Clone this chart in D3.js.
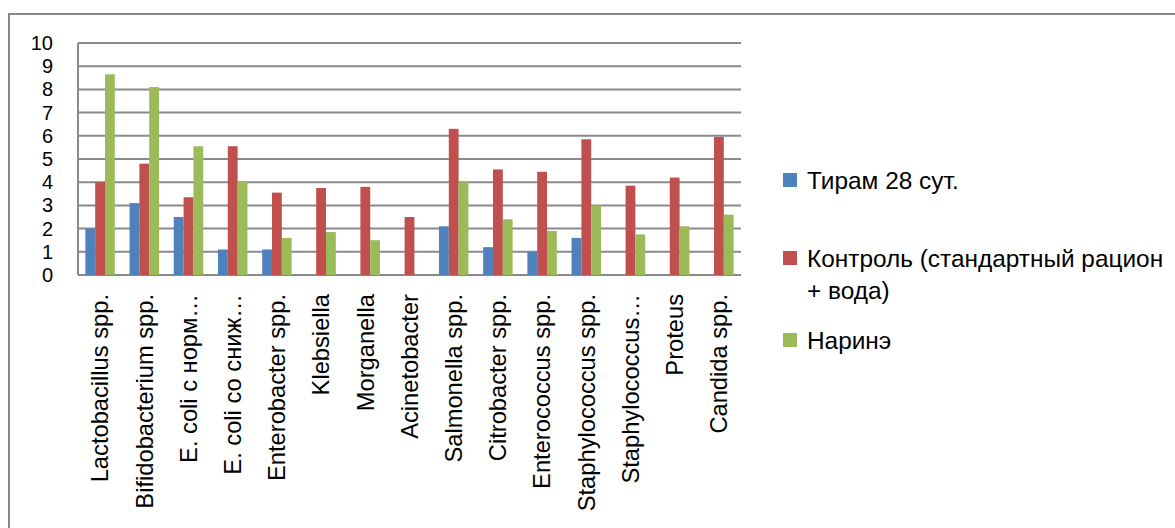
<!DOCTYPE html>
<html lang="ru">
<head>
<meta charset="UTF-8">
<title>Chart</title>
<style>
  body { margin: 0; background: #fff; }
  text { font-family: "Liberation Sans", Arial, sans-serif; fill: #000; }
</style>
</head>
<body>
<svg width="1175" height="528"></svg>
<script src="https://d3js.org/d3.v7.min.js"></script>
<script>
// categories as shown on the axis (long names are cut off in the source)
var categories = ["Lactobacillus spp.", "Bifidobacterium spp.", "E. coli с норм…", "E. coli со сниж…",
  "Enterobacter spp.", "Klebsiella", "Morganella", "Acinetobacter", "Salmonella spp.",
  "Citrobacter spp.", "Enterococcus spp.", "Staphylococcus spp.", "Staphylococcus…",
  "Proteus", "Candida spp."];

var seriesNames = ["Тирам 28 сут.", "Контроль (стандартный рацион + вода)", "Наринэ"];

var tiram    = [2.0, 3.1, 2.5, 1.1, 1.1, 0, 0, 0, 2.1, 1.2, 1.0, 1.6, 0, 0, 0];
var kontrol  = [4.0, 4.8, 3.35, 5.55, 3.55, 3.75, 3.8, 2.5, 6.3, 4.55, 4.45, 5.85, 3.85, 4.2, 5.95];
var narine   = [8.65, 8.1, 5.55, 4.05, 1.6, 1.85, 1.5, 0, 4.0, 2.4, 1.9, 3.0, 1.75, 2.1, 2.6];

var yTicks = [0, 1, 2, 3, 4, 5, 6, 7, 8, 9, 10];
var colors = ["#4F81BD", "#C0504D", "#9BBB59"];

var svg = d3.select("svg");
var marge = {left: 78, right: 741, top: 43, bottom: 275};

// outer frame of the chart
svg.append("rect")
  .attr("x", 9).attr("y", 14)
  .attr("width", 1200).attr("height", 600)
  .attr("fill", "none")
  .attr("stroke", "#878787")
  .attr("stroke-width", 2);

var x = d3.scaleBand()
  .domain(d3.range(categories.length))
  .range([marge.left, marge.right]);

var y = d3.scaleLinear()
  .domain([0, 10])
  .range([marge.bottom, marge.top]);

// bars take 3 of 4.5 bar widths in each category (gap 150%)
var xs = d3.scaleBand()
  .domain(d3.range(3))
  .range([x.bandwidth() * 0.75 / 4.5, x.bandwidth() - x.bandwidth() * 0.75 / 4.5]);

// grid lines
svg.append("g").selectAll("line")
  .data(yTicks)
  .enter().append("line")
  .attr("x1", marge.left).attr("x2", marge.right)
  .attr("y1", function(d){ return y(d); })
  .attr("y2", function(d){ return y(d); })
  .attr("stroke", "#8a8a8a")
  .attr("stroke-width", 2);

// left axis line
svg.append("line")
  .attr("x1", marge.left).attr("x2", marge.left)
  .attr("y1", y(10)).attr("y2", y(0))
  .attr("stroke", "#8a8a8a")
  .attr("stroke-width", 2);

// y axis labels
var yAxis = d3.axisLeft(y).tickValues(yTicks).tickSize(0).tickPadding(25);
var gy = svg.append("g")
  .attr("transform", "translate(" + marge.left + ",0)")
  .call(yAxis);
gy.select(".domain").remove();
gy.selectAll("text")
  .style("font-family", "Liberation Sans, Arial, sans-serif")
  .style("font-size", "20px")
  .attr("fill", "#000");

// bars
var data = [tiram, kontrol, narine];
var groups = svg.append("g").selectAll("g")
  .data(data)
  .enter().append("g")
  .attr("fill", function(d, i){ return colors[i]; });

groups.each(function(vals, s){
  d3.select(this).selectAll("rect")
    .data(vals)
    .enter().append("rect")
    .attr("x", function(d, i){ return x(i) + xs(s); })
    .attr("width", xs.bandwidth())
    .attr("y", function(d){ return y(d); })
    .attr("height", function(d){ return y(0) - y(d); });
});

// x labels, rotated
svg.append("g").selectAll("text")
  .data(categories)
  .enter().append("text")
  .attr("transform", function(d, i){
    return "translate(" + (x(i) + x.bandwidth() / 2) + "," + (marge.bottom + 19) + ") rotate(-90)";
  })
  .attr("text-anchor", "end")
  .attr("dy", "0.35em")
  .style("font-size", "23.7px")
  .text(function(d){ return d; });

// legend
var legendRows = [
  {s: 0, y: 180, lines: [seriesNames[0]]},
  {s: 1, y: 258, lines: ["Контроль (стандартный рацион", "+ вода)"]},
  {s: 2, y: 340, lines: [seriesNames[2]]}
];
var lg = svg.append("g").selectAll("g")
  .data(legendRows)
  .enter().append("g")
  .attr("transform", function(d){ return "translate(783," + d.y + ")"; });
lg.append("rect")
  .attr("x", 0).attr("y", -7)
  .attr("width", 14).attr("height", 14)
  .attr("fill", function(d){ return colors[d.s]; });
lg.append("text")
  .attr("x", 24)
  .attr("y", 0)
  .style("font-size", "24.4px")
  .selectAll("tspan")
  .data(function(d){ return d.lines; })
  .enter().append("tspan")
  .attr("x", 24)
  .attr("dy", function(d, i){ return i === 0 ? "0.35em" : "32px"; })
  .text(function(d){ return d; });
</script>
</body>
</html>
